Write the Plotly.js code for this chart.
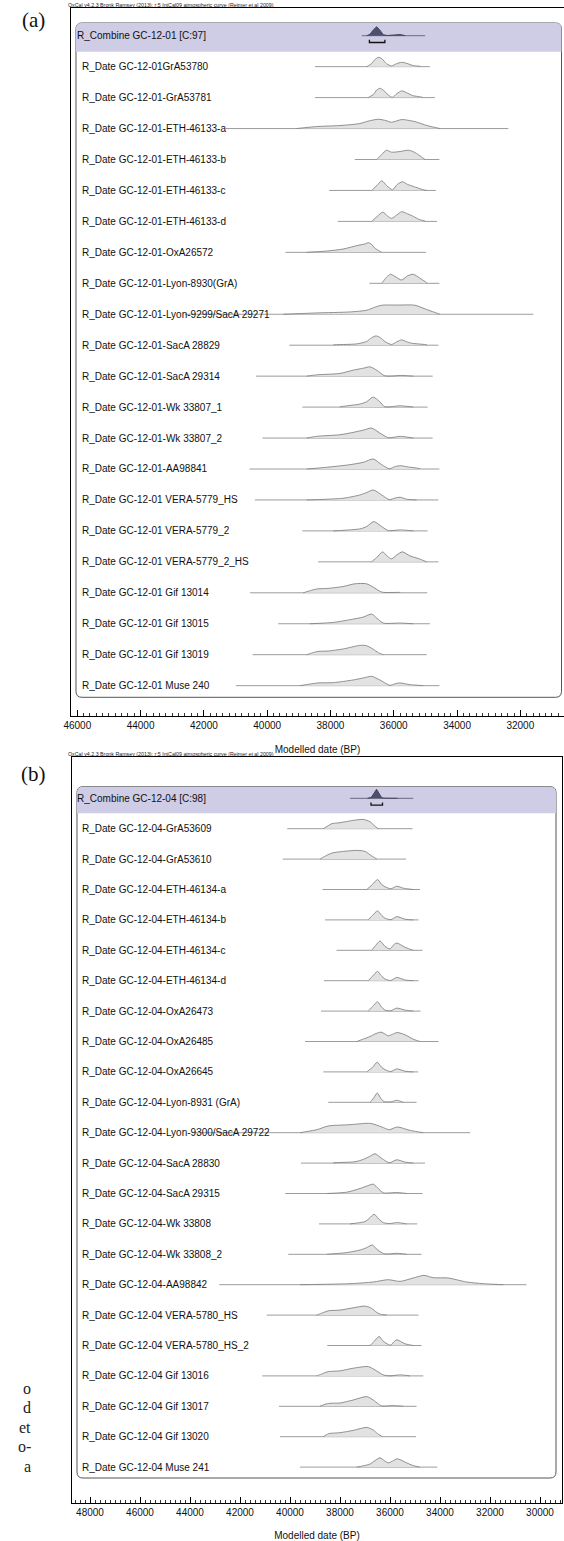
<!DOCTYPE html>
<html><head><meta charset="utf-8">
<script src="https://cdn.plot.ly/plotly-3.0.1.min.js"></script>
<style>html,body{margin:0;padding:0;background:#fff}#chart{width:564px;height:1541px}</style>
</head><body><div id="chart"></div><script>
// ---------- Panel (a) data ----------
const topLabels = ["R_Combine GC-12-01 [C:97]","R_Date GC-12-01GrA53780","R_Date GC-12-01-GrA53781","R_Date GC-12-01-ETH-46133-a","R_Date GC-12-01-ETH-46133-b","R_Date GC-12-01-ETH-46133-c","R_Date GC-12-01-ETH-46133-d","R_Date GC-12-01-OxA26572","R_Date GC-12-01-Lyon-8930(GrA)","R_Date GC-12-01-Lyon-9299/SacA 29271","R_Date GC-12-01-SacA 28829","R_Date GC-12-01-SacA 29314","R_Date GC-12-01-Wk 33807_1","R_Date GC-12-01-Wk 33807_2","R_Date GC-12-01-AA98841","R_Date GC-12-01 VERA-5779_HS","R_Date GC-12-01 VERA-5779_2","R_Date GC-12-01 VERA-5779_2_HS","R_Date GC-12-01 Gif 13014","R_Date GC-12-01 Gif 13015","R_Date GC-12-01 Gif 13019","R_Date GC-12-01 Muse 240"];
const topRangeFrom = [37010,38490,38490,41300,37230,38040,37770,39420,36770,42600,39300,40350,38890,40150,40560,40390,38890,38390,40540,39650,40460,40990];
const topRangeTo   = [35010,34860,34700,32380,34560,34670,34630,34980,34560,31590,34590,34770,34930,34770,34560,34590,34930,34590,34940,34860,34960,34560];
const topDates = [
 [36850,36750,36640,36540,36450,36330,36200,35950,35800,35650],
 [36860,36700,36600,36490,36380,36230,36070,35910,35750,35590,35380,35170],
 [36810,36650,36540,36440,36330,36170,36040,35900,35750,35600,35400,35100],
 [39070,38440,37700,37070,36800,36490,36250,36070,35750,35500,35280,34950,34540],
 [36540,36380,36230,36070,35800,35540,35400,35280,35010],
 [36700,36530,36380,36230,36040,35890,35730,35560,35380,35070,34960],
 [36700,36520,36350,36200,36070,35900,35750,35560,35380,35200,35010],
 [38750,38120,37600,37170,36900,36800,36700,36600,36380],
 [36380,36230,36100,35920,35750,35560,35380,35170,34960],
 [39490,38440,37390,36860,36600,36380,35860,35330,34960,34540],
 [37910,37170,36860,36700,36560,36420,36280,36070,35900,35750,35600,35440,34960],
 [38750,38440,37700,37280,36950,36750,36540,36280,35750,35380],
 [37700,37070,36860,36650,36440,36280,35800,35380],
 [38750,38440,37700,37280,36950,36700,36440,36170,35800,35380],
 [38750,38120,37390,36960,36650,36380,36140,35950,35780,35540,35170],
 [38750,37600,37070,36850,36650,36380,36140,35950,35800,35590,35280],
 [37910,37070,36860,36630,36380,36170,35800,35380],
 [36700,36540,36350,36200,36070,35900,35730,35490,35170,34960],
 [38860,38600,38390,38120,37600,37230,36860,36650,36380,35800],
 [38650,37910,37390,36960,36700,36540,36330,35800,35380],
 [38750,38500,38390,38070,37600,37070,36860,36650,36490,36330],
 [38960,38390,37910,37280,36950,36700,36440,36120,35950,35800,35490,35070]
];
const topProb = [
 [0,.15,.6,.9,.6,.1,.02,.05,.12,.02],
 [0,.3,.7,.93,.8,.3,.07,.3,.43,.33,.1,.03],
 [0,.3,.75,.93,.75,.25,.03,.4,.67,.5,.2,.03],
 [0,.2,.3,.5,.75,.93,.8,.63,.9,.8,.65,.3,0],
 [0,.5,.93,.73,.8,.93,.8,.6,0],
 [0,.5,.97,.5,.07,.6,.87,.6,.4,.07,0],
 [0,.5,.93,.55,.3,.65,.97,.75,.5,.2,.03],
 [0,.13,.33,.67,.85,.97,.8,.43,0],
 [0,.6,.9,.6,.33,.75,.9,.5,.05],
 [0,.13,.23,.4,.7,.9,.92,.9,.47,0],
 [.02,.13,.37,.75,.93,.75,.37,.07,.35,.53,.35,.2,.03],
 [0,.13,.27,.6,.8,.93,.6,.03,.07,0],
 [.02,.3,.53,1.0,.53,.03,.13,0],
 [0,.17,.33,.57,.8,1.0,.5,.03,.17,0],
 [0,.17,.43,.67,1.0,.43,.03,.25,.33,.2,.03],
 [0,.17,.5,.75,1.0,.5,.03,.2,.27,.07,0],
 [0,.2,.43,.93,.43,.03,.1,0],
 [0,.43,1.0,.55,.3,.7,1.0,.6,.27,0],
 [0,.25,.4,.43,.63,.9,.9,.57,.07,.03],
 [0,.13,.4,.67,.97,.57,.07,.07,0],
 [0,.25,.33,.37,.57,.93,.9,.55,.2,0],
 [0,.27,.3,.57,.78,.93,.57,.03,.2,.27,.1,0]
];
const topCombineRange = [36770, 36280];

// ---------- Panel (b) data ----------
const botLabels = ["R_Combine GC-12-04 [C:98]","R_Date GC-12-04-GrA53609","R_Date GC-12-04-GrA53610","R_Date GC-12-04-ETH-46134-a","R_Date GC-12-04-ETH-46134-b","R_Date GC-12-04-ETH-46134-c","R_Date GC-12-04-ETH-46134-d","R_Date GC-12-04-OxA26473","R_Date GC-12-04-OxA26485","R_Date GC-12-04-OxA26645","R_Date GC-12-04-Lyon-8931 (GrA)","R_Date GC-12-04-Lyon-9300/SacA 29722","R_Date GC-12-04-SacA 28830","R_Date GC-12-04-SacA 29315","R_Date GC-12-04-Wk 33808","R_Date GC-12-04-Wk 33808_2","R_Date GC-12-04-AA98842","R_Date GC-12-04 VERA-5780_HS","R_Date GC-12-04 VERA-5780_HS_2","R_Date GC-12-04 Gif 13016","R_Date GC-12-04 Gif 13017","R_Date GC-12-04 Gif 13020","R_Date GC-12-04 Muse 241"];
const botRangeFrom = [37600,40110,40290,38700,38600,38140,38640,38760,39400,38670,38470,43900,39560,40190,38840,40070,42830,40930,38510,41110,40440,40400,39600];
const botRangeTo   = [35070,35100,35360,34800,34860,34700,34860,34780,34060,34870,34940,32800,34600,34700,34910,34740,30540,34860,34740,34670,34940,34960,34110];
const botDates = [
 [36900,36750,36640,36540,36440,36330,36200,35900,35700],
 [38670,38470,38330,38000,37470,37070,36800,36600,36470],
 [38800,38550,38330,37870,37330,37000,36750,36530],
 [36930,36700,36500,36350,36200,35960,35730,35470,35070],
 [36870,36700,36500,36350,36200,35960,35730,35400,35070],
 [36730,36570,36400,36200,36000,35870,35730,35400,35070],
 [36870,36700,36500,36350,36200,35970,35730,35400,35070],
 [36870,36700,36500,36350,36200,35970,35730,35400,35070],
 [37330,36800,36560,36360,36200,36070,35900,35710,35400,35070,34800],
 [36930,36700,36510,36350,36200,35970,35730,35400,35070],
 [36800,36650,36510,36370,36240,35950,35730,35470],
 [39600,38930,38470,37600,36780,36330,36030,35710,35200,34670],
 [38270,37400,37070,36830,36600,36330,36030,35730,35400,35070],
 [38530,37730,37200,36950,36670,36450,36270,35730,35330],
 [37600,37000,36830,36640,36450,36270,36000,35730,35330],
 [38530,37730,37200,36950,36700,36550,36400,36200,35730,35330],
 [39600,37600,36670,36070,35600,35070,34640,34270,33670,32940,32270,31470],
 [38930,38670,38470,38000,37470,37000,36730,36550,36400,36130],
 [36800,36620,36430,36300,36160,35970,35850,35730,35400,35070],
 [38930,38670,38470,38000,37470,36870,36600,36270,36000,35600,35200],
 [38800,38600,38400,38000,37470,36930,36670,36500,36330,35870,35470],
 [38670,38500,38400,38000,37470,36930,36670,36500,36330],
 [37330,36800,36600,36400,36230,36070,35900,35710,35340,35070,34800]
];
const botProb = [
 [0,.1,.5,.9,.5,.05,.01,.03,0],
 [0,.3,.5,.6,.83,.93,.7,.25,0],
 [0,.35,.6,.77,.87,.77,.35,0],
 [0,.5,1.0,.55,.27,.07,.33,.13,0],
 [0,.45,.9,.5,.17,.02,.33,.07,0],
 [0,.5,.93,.4,.13,.5,.73,.3,0],
 [0,.45,.93,.5,.17,.02,.33,.07,0],
 [0,.45,.93,.45,.1,.03,.3,.1,0],
 [0,.5,.8,.93,.75,.57,.72,.9,.67,.23,0],
 [0,.45,.97,.5,.23,.03,.3,.07,0],
 [0,.45,.93,.4,.07,.05,.2,0],
 [0,.3,.67,.8,.93,.57,.3,.57,.23,0],
 [.02,.13,.37,.65,.93,.47,.03,.33,.1,0],
 [0,.13,.5,.72,.93,.45,.07,.1,0],
 [0,.23,.55,.97,.5,.13,.03,.13,0],
 [0,.17,.43,.65,.93,.55,.27,.03,.1,0],
 [0,.1,.27,.5,.33,.67,.93,.7,.67,.27,.1,0],
 [0,.25,.43,.5,.73,.9,.67,.3,.1,0],
 [0,.45,.9,.5,.23,.03,.35,.57,.17,0],
 [0,.25,.43,.5,.77,.93,.6,.1,0,.1,0],
 [0,.2,.3,.33,.63,.97,.63,.3,.03,.07,0],
 [0,.25,.33,.4,.63,.93,.67,.3,.03],
 [0,.3,.65,.93,.65,.43,.6,.83,.43,.15,0]
];
const botCombineRange = [36760, 36300];

const axisTicks = {major: 2000, minor: 200};
const xTitle = "Modelled date (BP)";
const headerText = "OxCal v4.2.3 Bronk Ramsey (2013); r:5 IntCal09 atmospheric curve (Reimer et al 2009)";

// ---------- geometry helpers (pixel -> paper) ----------
const W = 564, Hh = 1541;
const px = p => p / W;
const py = p => 1 - p / Hh;
const SANS = "Liberation Sans, Arial, Helvetica, sans-serif";
const SERIF = "Liberation Serif, Times New Roman, serif";

function roundRectPath(x0, y0, x1, y1, r, squareBottom) {
  const P = (x, y) => px(x).toFixed(5) + "," + py(y).toFixed(5);
  let d = "M" + P(x0 + r, y0) + " L" + P(x1 - r, y0) + " Q" + P(x1, y0) + " " + P(x1, y0 + r);
  if (squareBottom) {
    d += " L" + P(x1, y1) + " L" + P(x0, y1);
  } else {
    d += " L" + P(x1, y1 - r) + " Q" + P(x1, y1) + " " + P(x1 - r, y1) +
         " L" + P(x0 + r, y1) + " Q" + P(x0, y1) + " " + P(x0, y1 - r);
  }
  d += " L" + P(x0, y0 + r) + " Q" + P(x0, y0) + " " + P(x0 + r, y0) + " Z";
  return d;
}

const traces = [];
const annotations = [];
function buildPanel(labels, from, to, dates, probs, cRange, xa, ya, hScale) {
  for (let i = 0; i < labels.length; i++) {
    const isC = i === 0;
    traces.push({x: [from[i], to[i]], y: [i, i], xaxis: xa, yaxis: ya, mode: "lines",
      line: {color: isC ? "#6a6a80" : "#9c9c9c", width: 1}, hoverinfo: "skip", showlegend: false});
    const bp = dates[i], pr = probs[i];
    const xs = [bp[0]].concat(bp, [bp[bp.length - 1]]);
    const ys = [i].concat(pr.map(v => i - v * hScale), [i]);
    traces.push({x: xs, y: ys, xaxis: xa, yaxis: ya, mode: "lines", fill: "toself",
      fillcolor: isC ? "#4f4f6e" : "#e2e2e2",
      line: {color: isC ? "#3d3d57" : "#858585", width: 0.9, shape: isC ? "linear" : "spline", smoothing: 0.7},
      hoverinfo: "skip", showlegend: false});
    annotations.push({text: labels[i], xref: "paper", yref: ya, x: px(isC ? 76 : 81), y: i,
      xanchor: "left", yanchor: "middle", showarrow: false, borderpad: 0,
      font: {family: SANS, size: 10, color: "#111"}});
  }
  // 68% range bracket under the combine
  const b = 0.22 * (hScale / 0.323), t = b - 0.09;
  traces.push({x: [cRange[0], cRange[0], cRange[1], cRange[1]], y: [t, b, b, t], xaxis: xa, yaxis: ya,
    mode: "lines", line: {color: "#111", width: 1.3}, hoverinfo: "skip", showlegend: false});
}

buildPanel(topLabels, topRangeFrom, topRangeTo, topDates, topProb, topCombineRange, "x", "y", 0.323);
buildPanel(botLabels, botRangeFrom, botRangeTo, botDates, botProb, botCombineRange, "x2", "y2", 0.329);

// panel frames in pixels
const A = {l: 71, r: 564, t: 8, b: 716, c0: 35.7, step: 30.95, xref: 46000, xpx: 77.3, ypp: 31.6};
const B = {l: 72, r: 562, t: 757, b: 1503, c0: 798.3, step: 30.4, xref: 48000, xpx: 90, ypp: 40};

function xRange(P) { return [P.xref + (P.xpx - P.l) * P.ypp, P.xref - (P.r - P.xpx) * P.ypp]; }
function yRange(P) { return [(P.b - P.c0) / P.step, (P.t - P.c0) / P.step]; }

function xAxis(P, anchor) {
  return {domain: [px(P.l), px(P.r)], range: xRange(P), anchor: anchor, showgrid: false, zeroline: false,
    showline: true, linecolor: "#000", linewidth: 1.3, mirror: true,
    ticks: "inside", ticklen: 6, tickwidth: 1, tickcolor: "#000", dtick: axisTicks.major, tick0: 0,
    tickformat: "d", separatethousands: false,
    minor: {dtick: axisTicks.minor, ticklen: 3, tickwidth: 0.8, tickcolor: "#000", ticks: "inside", showgrid: false},
    tickfont: {family: SANS, size: 10, color: "#111"}, automargin: false, fixedrange: true,
    title: {text: xTitle, font: {family: SANS, size: 10, color: "#111"}, standoff: 15}};
}
function yAxis(P, anchor) {
  return {domain: [py(P.b), py(P.t)], range: yRange(P), anchor: anchor, showgrid: false, zeroline: false,
    showline: true, linecolor: "#000", linewidth: 1.3, mirror: true, ticks: "", showticklabels: false,
    automargin: false, fixedrange: true};
}

const shapes = [
  {type: "path", xref: "paper", yref: "paper", path: roundRectPath(76, 23, 561.5, 697.3, 6, false),
   line: {color: "#555", width: 1}, fillcolor: "rgba(0,0,0,0)", layer: "below"},
  {type: "path", xref: "paper", yref: "paper", path: roundRectPath(76, 23, 561.5, 51.7, 6, true),
   line: {width: 0}, fillcolor: "#cfcce6", layer: "below"},
  {type: "path", xref: "paper", yref: "paper", path: roundRectPath(77, 786.7, 556, 1478, 6, false),
   line: {color: "#555", width: 1}, fillcolor: "rgba(0,0,0,0)", layer: "below"},
  {type: "path", xref: "paper", yref: "paper", path: roundRectPath(77, 786.7, 556, 813.3, 6, true),
   line: {width: 0}, fillcolor: "#cfcce6", layer: "below"}
];

annotations.push(
  {text: headerText, xref: "paper", yref: "paper", x: px(66), y: py(4.5), xanchor: "left", yanchor: "middle",
   showarrow: false, font: {family: SANS, size: 5.3, color: "#222"}},
  {text: headerText, xref: "paper", yref: "paper", x: px(66), y: py(753.5), xanchor: "left", yanchor: "middle",
   showarrow: false, font: {family: SANS, size: 5.3, color: "#222"}},
  {text: "(a)", xref: "paper", yref: "paper", x: px(33), y: py(20), xanchor: "center", yanchor: "middle",
   showarrow: false, font: {family: SERIF, size: 21, color: "#111"}},
  {text: "(b)", xref: "paper", yref: "paper", x: px(33), y: py(774), xanchor: "center", yanchor: "middle",
   showarrow: false, font: {family: SERIF, size: 21, color: "#111"}}
);
const sideWords = ["o", "d", "et", "o-", "a"];
const sideY = [1388, 1407.5, 1427, 1446.5, 1466];
sideWords.forEach((w, k) => annotations.push({text: w, xref: "paper", yref: "paper", x: px(33), y: py(sideY[k]),
  xanchor: "right", yanchor: "middle", showarrow: false, font: {family: SERIF, size: 16, color: "#222"}}));

const layout = {
  width: W, height: Hh, autosize: false, margin: {l: 0, r: 0, t: 0, b: 0, pad: 0},
  paper_bgcolor: "#fff", plot_bgcolor: "rgba(0,0,0,0)", showlegend: false,
  xaxis: xAxis(A, "y"), yaxis: yAxis(A, "x"),
  xaxis2: xAxis(B, "y2"), yaxis2: yAxis(B, "x2"),
  shapes: shapes, annotations: annotations
};
Plotly.newPlot("chart", traces, layout, {staticPlot: true, displayModeBar: false});
</script></body></html>
